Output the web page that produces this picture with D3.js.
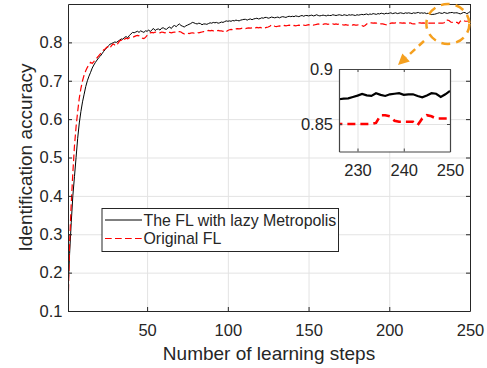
<!DOCTYPE html>
<html>
<head>
<meta charset="utf-8">
<script src="https://cdn.jsdelivr.net/npm/d3@7"></script>
<style>
body { margin: 0; background: #fff; }
svg text { font-family: "Liberation Sans", Arial, Helvetica, sans-serif; fill: #262626; }
</style>
</head>
<body>
<svg id="chart" width="487" height="368"></svg>
<script>
// learning steps 1..250
const steps = d3.range(1, 251);

// The FL with lazy Metropolis
const lazyAcc = [
    0.155, 0.25, 0.33, 0.40, 0.45, 0.50, 0.55, 0.59, 0.62, 0.645,
    0.665, 0.685, 0.70, 0.712, 0.722, 0.733, 0.741, 0.748, 0.754, 0.760,
    0.764, 0.770, 0.776, 0.781, 0.786, 0.791, 0.795, 0.797, 0.799, 0.801,
    0.800, 0.803, 0.806, 0.809, 0.808, 0.813, 0.815, 0.812, 0.818, 0.822,
    0.826, 0.825, 0.827, 0.829, 0.826, 0.830, 0.828, 0.826, 0.830, 0.829,
    0.832, 0.828, 0.833, 0.836, 0.831, 0.834, 0.835, 0.832, 0.837, 0.838,
    0.835, 0.834, 0.838, 0.840, 0.836, 0.842, 0.844, 0.841, 0.845, 0.848,
    0.844, 0.842, 0.840, 0.843, 0.845, 0.847, 0.849, 0.852, 0.851, 0.849,
    0.848, 0.850, 0.849, 0.846, 0.848, 0.848, 0.847, 0.849, 0.851, 0.850,
    0.852, 0.851, 0.852, 0.850, 0.851, 0.853, 0.852, 0.854, 0.856, 0.855,
    0.856, 0.855, 0.857, 0.856, 0.858, 0.857, 0.856, 0.858, 0.859, 0.860,
    0.860, 0.858, 0.860, 0.861, 0.859, 0.861, 0.862, 0.863, 0.861, 0.862,
    0.864, 0.863, 0.865, 0.865, 0.863, 0.864, 0.866, 0.865, 0.864, 0.865,
    0.866, 0.864, 0.866, 0.867, 0.866, 0.865, 0.867, 0.868, 0.867, 0.868,
    0.867, 0.869, 0.868, 0.867, 0.869, 0.870, 0.868, 0.870, 0.870, 0.869,
    0.870, 0.871, 0.869, 0.870, 0.872, 0.870, 0.869, 0.870, 0.871, 0.870,
    0.869, 0.871, 0.870, 0.870, 0.872, 0.871, 0.870, 0.871, 0.872, 0.871,
    0.870, 0.872, 0.871, 0.870, 0.872, 0.871, 0.872, 0.871, 0.870, 0.872,
    0.871, 0.872, 0.873, 0.872, 0.873, 0.874, 0.872, 0.874, 0.873, 0.875,
    0.874, 0.873, 0.875, 0.874, 0.876, 0.875, 0.874, 0.876, 0.875, 0.876,
    0.877, 0.875, 0.876, 0.877, 0.875, 0.876, 0.877, 0.876, 0.875, 0.877,
    0.876, 0.877, 0.876, 0.875, 0.877, 0.876, 0.877, 0.878, 0.876, 0.877,
    0.876, 0.877, 0.875, 0.876, 0.874,
    0.8725, 0.873, 0.8733, 0.8745, 0.8758, 0.8773, 0.876, 0.8756, 0.878, 0.8765,
    0.8755, 0.877, 0.8775, 0.878, 0.8765, 0.877, 0.877, 0.8755, 0.8743, 0.876,
    0.878, 0.8775, 0.8746, 0.877, 0.880
];

// Original FL
const origAcc = [
    0.10, 0.28, 0.38, 0.46, 0.53, 0.58, 0.62, 0.655, 0.68, 0.70,
    0.715, 0.726, 0.735, 0.742, 0.748, 0.745, 0.750, 0.756, 0.760, 0.765,
    0.770, 0.776, 0.780, 0.783, 0.787, 0.789, 0.785, 0.792, 0.796, 0.793,
    0.791, 0.798, 0.804, 0.806, 0.803, 0.808, 0.811, 0.809, 0.812, 0.813,
    0.813, 0.815, 0.817, 0.818, 0.817, 0.814, 0.811, 0.810, 0.813, 0.818,
    0.822, 0.825, 0.826, 0.825, 0.827, 0.826, 0.826, 0.825, 0.827, 0.826,
    0.825, 0.826, 0.827, 0.826, 0.825, 0.826, 0.827, 0.826, 0.828, 0.828,
    0.827, 0.824, 0.822, 0.823, 0.824, 0.823, 0.824, 0.825, 0.824, 0.825,
    0.826, 0.825, 0.826, 0.827, 0.828, 0.829, 0.830, 0.831, 0.830, 0.831,
    0.830, 0.831, 0.830, 0.831, 0.830, 0.830, 0.829, 0.831, 0.828, 0.831,
    0.833, 0.834, 0.833, 0.834, 0.835, 0.836, 0.835, 0.836, 0.837, 0.837,
    0.836, 0.837, 0.838, 0.837, 0.838, 0.839, 0.838, 0.839, 0.838, 0.839,
    0.838, 0.839, 0.838, 0.839, 0.840, 0.842, 0.845, 0.845, 0.842, 0.841,
    0.842, 0.843, 0.842, 0.843, 0.844, 0.843, 0.844, 0.845, 0.844, 0.843,
    0.844, 0.843, 0.844, 0.845, 0.844, 0.844, 0.845, 0.844, 0.845, 0.846,
    0.845, 0.846, 0.845, 0.846, 0.847, 0.848, 0.847, 0.848, 0.847, 0.848,
    0.848, 0.847, 0.848, 0.847, 0.848, 0.847, 0.848, 0.847, 0.848, 0.847,
    0.846, 0.845, 0.846, 0.845, 0.845, 0.846, 0.845, 0.846, 0.845, 0.845,
    0.846, 0.845, 0.844, 0.842, 0.844, 0.848, 0.850, 0.851, 0.851, 0.850,
    0.851, 0.850, 0.851, 0.849, 0.848, 0.848, 0.847, 0.846, 0.845, 0.848,
    0.850, 0.851, 0.850, 0.851, 0.850, 0.851, 0.851, 0.850, 0.851, 0.850,
    0.851, 0.850, 0.851, 0.849, 0.848, 0.848, 0.849, 0.851, 0.851, 0.850,
    0.851, 0.850, 0.851, 0.850, 0.850,
    0.850, 0.850, 0.850, 0.850, 0.850, 0.850, 0.850, 0.850, 0.851, 0.858,
    0.858, 0.857, 0.853, 0.852, 0.852, 0.852, 0.852, 0.849, 0.855, 0.858,
    0.857, 0.855, 0.855, 0.855, 0.855
];

const seriesNames = ["The FL with lazy Metropolis", "Original FL"];
const xTicks = [50, 100, 150, 200, 250];
const yTicks = [0.1, 0.2, 0.3, 0.4, 0.5, 0.6, 0.7, 0.8];
const insetXTicks = [230, 240, 250];
const insetYTicks = [0.85, 0.9];

const svg = d3.select("#chart");
const axisColor = "#262626";
const gridColor = "#e3e3e3";
const orange = "#f5a01f";

const margin = { left: 68, right: 17, top: 4, bottom: 57 };
const width = 487 - margin.left - margin.right;
const height = 368 - margin.top - margin.bottom;

const x = d3.scaleLinear().domain([1, 250]).range([0, width]);
const y = d3.scaleLinear().domain([0.1, 0.9]).range([height, 0]);

const g = svg.append("g")
    .attr("transform", "translate(" + margin.left + "," + margin.top + ")");

svg.append("defs").append("clipPath").attr("id", "mainClip")
    .append("rect").attr("width", width).attr("height", height);

// grid
g.append("g")
    .attr("transform", "translate(0," + height + ")")
    .call(d3.axisBottom(x).tickValues(xTicks).tickSize(-height).tickFormat(""))
    .call(a => a.select(".domain").remove())
    .selectAll("line").attr("stroke", gridColor);
g.append("g")
    .call(d3.axisLeft(y).tickValues(yTicks).tickSize(-width).tickFormat(""))
    .call(a => a.select(".domain").remove())
    .selectAll("line").attr("stroke", gridColor);

const series = [
    { name: seriesNames[0], values: lazyAcc, color: "#000", dash: null, w: 1 },
    { name: seriesNames[1], values: origAcc, color: "#ff0000", dash: "6.7,3.3", w: 1.2 }
];

const line = d3.line()
    .x((d, i) => x(steps[i]))
    .y(d => y(d));

g.append("g").attr("clip-path", "url(#mainClip)")
    .selectAll("path")
    .data(series)
    .enter()
    .append("path")
    .attr("d", d => line(d.values))
    .attr("fill", "none")
    .attr("stroke", d => d.color)
    .attr("stroke-width", d => d.w)
    .attr("stroke-dasharray", d => d.dash);

// axes, ticks pointing inwards
function styleAxis(a) {
    a.select(".domain").attr("stroke", axisColor);
    a.selectAll(".tick line").attr("stroke", axisColor);
    a.selectAll("text").attr("fill", axisColor).style("font-size", "16.5px");
}
g.append("g")
    .attr("transform", "translate(0," + height + ")")
    .call(d3.axisBottom(x).tickValues(xTicks).tickSize(-4).tickSizeOuter(0).tickPadding(13))
    .call(styleAxis);
g.append("g")
    .call(d3.axisLeft(y).tickValues(yTicks).tickSize(-4).tickSizeOuter(0).tickPadding(5.5)
        .tickFormat(d3.format(".1f")))
    .call(styleAxis);
g.append("g")
    .call(d3.axisTop(x).tickValues(xTicks).tickSize(-4).tickSizeOuter(0).tickFormat(""))
    .call(styleAxis);
g.append("g")
    .attr("transform", "translate(" + width + ",0)")
    .call(d3.axisRight(y).tickValues(yTicks).tickSize(-4).tickSizeOuter(0).tickFormat(""))
    .call(styleAxis);

// axis labels
svg.append("text")
    .attr("x", margin.left + width / 2)
    .attr("y", 360)
    .attr("text-anchor", "middle")
    .style("font-size", "19px")
    .text("Number of learning steps");
svg.append("text")
    .attr("transform", "translate(31.7," + (margin.top + height / 2) + ") rotate(-90)")
    .attr("text-anchor", "middle")
    .style("font-size", "19px")
    .text("Identification accuracy");

// legend
const legend = svg.append("g").attr("transform", "translate(102,208.5)");
legend.append("rect")
    .attr("width", 236.5).attr("height", 43)
    .attr("fill", "#fff").attr("stroke", axisColor).attr("stroke-width", 1);
const legendItems = legend.selectAll(".item")
    .data(series)
    .enter()
    .append("g")
    .attr("class", "item")
    .attr("transform", (d, i) => "translate(0," + (11.5 + i * 18.5) + ")");
legendItems.append("line")
    .attr("x1", 3).attr("x2", 40)
    .attr("stroke", d => d.color)
    .attr("stroke-width", d => d.w)
    .attr("stroke-dasharray", d => d.dash);
legendItems.append("text")
    .attr("x", 41.5)
    .attr("dy", "0.35em")
    .style("font-size", "15.9px")
    .text(d => d.name);

// zoom marker: dashed ellipse + arrow
const zoomCenter = [236.3, 0.848];
g.append("ellipse")
    .attr("cx", x(zoomCenter[0])).attr("cy", y(zoomCenter[1]))
    .attr("rx", 21.5).attr("ry", 20)
    .attr("fill", "none").attr("stroke", orange)
    .attr("stroke-width", 2.5).attr("stroke-dasharray", "9,6");

const arrowFrom = [424, 41];
const arrowTip = [398, 65];
const dx = arrowTip[0] - arrowFrom[0], dy = arrowTip[1] - arrowFrom[1];
const len = Math.sqrt(dx * dx + dy * dy);
const ux = dx / len, uy = dy / len;
const headLen = 11, headHalf = 5.5;
const base = [arrowTip[0] - ux * headLen, arrowTip[1] - uy * headLen];
svg.append("line")
    .attr("x1", arrowFrom[0]).attr("y1", arrowFrom[1])
    .attr("x2", base[0]).attr("y2", base[1])
    .attr("stroke", orange).attr("stroke-width", 2.5)
    .attr("stroke-dasharray", "7,5");
svg.append("path")
    .attr("d", "M" + arrowTip + "L" + [base[0] - uy * headHalf, base[1] + ux * headHalf] +
        "L" + [base[0] + uy * headHalf, base[1] - ux * headHalf] + "Z")
    .attr("fill", orange);

// inset
const inset = { left: 339, top: 69, width: 111, height: 82.5 };
const ix = d3.scaleLinear().domain([226, 250]).range([0, inset.width]);
const iy = d3.scaleLinear().domain([0.825, 0.9]).range([inset.height, 0]);
const ig = svg.append("g").attr("transform", "translate(" + inset.left + "," + inset.top + ")");

svg.select("defs").append("clipPath").attr("id", "insetClip")
    .append("rect").attr("width", inset.width).attr("height", inset.height);

ig.append("rect")
    .attr("width", inset.width).attr("height", inset.height)
    .attr("fill", "#fff");
ig.append("g")
    .attr("transform", "translate(0," + inset.height + ")")
    .call(d3.axisBottom(ix).tickValues(insetXTicks).tickSize(-inset.height).tickFormat(""))
    .call(a => a.select(".domain").remove())
    .selectAll("line").attr("stroke", gridColor);
ig.append("g")
    .call(d3.axisLeft(iy).tickValues(insetYTicks).tickSize(-inset.width).tickFormat(""))
    .call(a => a.select(".domain").remove())
    .selectAll("line").attr("stroke", gridColor);

const insetLine = d3.line()
    .defined((d, i) => steps[i] >= 225)
    .x((d, i) => ix(steps[i]))
    .y(d => iy(d));

ig.append("g").attr("clip-path", "url(#insetClip)")
    .selectAll("path")
    .data(series)
    .enter()
    .append("path")
    .attr("d", d => insetLine(d.values))
    .attr("fill", "none")
    .attr("stroke", d => d.color)
    .attr("stroke-width", d => d.dash ? 2.6 : 2.2)
    .attr("stroke-dasharray", d => d.dash ? "8,5" : null);

function styleInset(a) {
    a.select(".domain").attr("stroke", "#444").attr("stroke-width", 1.2);
    a.selectAll(".tick line").attr("stroke", "#444");
    a.selectAll("text").attr("fill", axisColor).style("font-size", "16.5px");
}
ig.append("g")
    .attr("transform", "translate(0," + inset.height + ")")
    .call(d3.axisBottom(ix).tickValues(insetXTicks).tickSize(-3).tickSizeOuter(0).tickPadding(13))
    .call(styleInset);
ig.append("g")
    .call(d3.axisLeft(iy).tickValues(insetYTicks).tickSize(-3).tickSizeOuter(0).tickPadding(6)
        .tickFormat(d => d === 0.9 ? "0.9" : "0.85"))
    .call(styleInset);
ig.append("g")
    .call(d3.axisTop(ix).tickValues(insetXTicks).tickSize(-3).tickSizeOuter(0).tickFormat(""))
    .call(styleInset);
ig.append("g")
    .attr("transform", "translate(" + inset.width + ",0)")
    .call(d3.axisRight(iy).tickValues(insetYTicks).tickSize(-3).tickSizeOuter(0).tickFormat(""))
    .call(styleInset);
</script>
</body>
</html>
